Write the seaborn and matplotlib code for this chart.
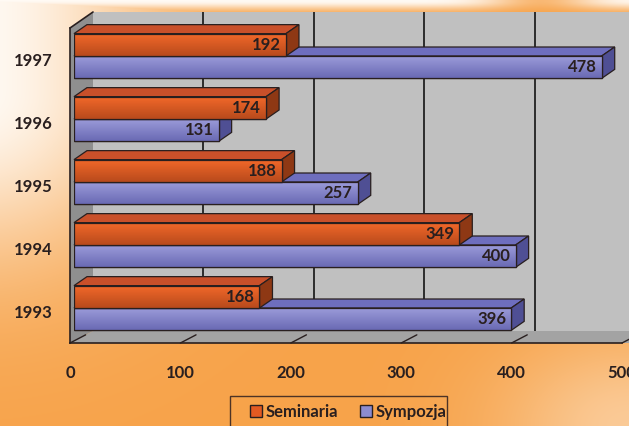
import numpy as np
import pandas as pd
import seaborn as sns
import matplotlib
matplotlib.use("Agg")
import matplotlib.pyplot as plt
from matplotlib.patches import Polygon, Rectangle, Patch
from matplotlib.transforms import IdentityTransform
from matplotlib.colors import LinearSegmentedColormap
from matplotlib.lines import Line2D

# ---- data -------------------------------------------------------------
years = ["1997", "1996", "1995", "1994", "1993"]
seminaria = [192, 174, 188, 349, 168]
sympozja = [478, 131, 257, 400, 396]
series = ["Seminaria", "Sympozja"]
x_ticks = [0, 100, 200, 300, 400, 500]

df = pd.DataFrame({
    "year": years * 2,
    "value": seminaria + sympozja,
    "series": [series[0]] * len(years) + [series[1]] * len(years),
})

# ---- style ------------------------------------------------------------
W, H, DPI = 629, 426, 100
sns.set_theme(style="white")
plt.rcParams["font.family"] = ["Lato", "DejaVu Sans"]
FS = 12
DARK = (0.16, 0.12, 0.12)

# face colours per series: front top, front bottom, top face, side face
STYLE = {
    "Seminaria": dict(front=("#f4692a", "#b84a1c"), top="#c9502a", side="#8e3814",
                      base="#e35a22"),
    "Sympozja": dict(front=("#9d9ddb", "#6a6ab4"), top="#6e6ebe", side="#4f4f94",
                     base="#8c8cd0"),
}
BAR_DEPTH = np.array([13.0, 9.0])     # pixel depth of each 3D bar

fig = plt.figure(figsize=(W / DPI, H / DPI), dpi=DPI)


def px_box(left, top, right, bottom):
    return [left / W, 1 - bottom / H, (right - left) / W, (bottom - top) / H]


# ---- background gradient ---------------------------------------------
bg = fig.add_axes([0, 0, 1, 1], zorder=-10)
yy, xx = np.mgrid[0:H, 0:W].astype(float)
base = np.array([247, 163, 74]) / 255
light = np.array([255, 250, 244]) / 255
w_left = np.exp(-((xx + 30) / 190.0) ** 2 - (np.clip(yy - 90, 0, None) / 170.0) ** 2)
w_top = np.exp(-(yy / 9.0) ** 2) * (1 - 0.75 * np.exp(-((xx - 540) / 55.0) ** 2))
w_br = 0.45 * np.exp(-(((xx - W) / 130.0) ** 2 + ((yy - H) / 90.0) ** 2))
wt = np.clip(np.maximum(np.maximum(w_left, w_top), w_br), 0, 1)
img = base * (1 - wt[..., None]) + light * wt[..., None]
bg.imshow(img, extent=(0, 1, 0, 1), aspect="auto", origin="upper")
bg.set_axis_off()

# ---- back wall -------------------------------------------------------
wall = fig.add_axes(px_box(93, 12, 93 + 552, 331), zorder=0)
wall.set_facecolor("#c0c0c0")
wall.set_xlim(0, 500)
wall.set_ylim(0, 1)
for t in x_ticks[1:]:
    wall.axvline(t, color=(0.13, 0.13, 0.13), lw=1.3)
wall.set_xticks([])
wall.set_yticks([])
for s in wall.spines.values():
    s.set_visible(False)

# ---- front frame (axes, ticks, labels) -------------------------------
ax = fig.add_axes(px_box(70, 28, 622, 343), zorder=1)
ax.set_facecolor("none")
ax.set_xlim(0, 500)
ax.set_ylim(len(years) - 0.5, -0.5)
ax.set_xticks(x_ticks)
ax.set_xticklabels([str(t) for t in x_ticks], fontsize=FS, fontweight="bold", color=DARK)
ax.set_yticks(range(len(years)))
ax.set_yticklabels(years, fontsize=FS, fontweight="bold", color=DARK)
ax.set_yticks(np.arange(-0.5, len(years)), minor=True)
ax.tick_params(axis="y", which="major", length=0, pad=12.5)
ax.tick_params(axis="y", which="minor", length=3.5, width=1, color=DARK, direction="out")
ax.tick_params(axis="x", which="major", length=3.5, width=1, color=DARK,
               direction="out", pad=12)
for side in ("top", "right"):
    ax.spines[side].set_visible(False)
for side in ("left", "bottom"):
    ax.spines[side].set_color(DARK)
    ax.spines[side].set_linewidth(1.2)

# left side wall and floor, between the front frame and the back wall
f_tl = ax.transAxes.transform((0, 1))
f_bl = ax.transAxes.transform((0, 0))
f_br = ax.transAxes.transform((1.05, 0))
b_tl = wall.transAxes.transform((0, 1))
b_bl = wall.transAxes.transform((0, 0))
b_br = wall.transAxes.transform((1.05, 0))
fig.add_artist(Polygon([f_tl, b_tl, b_bl, f_bl], closed=True, transform=IdentityTransform(),
                       facecolor="#8f8f8f", edgecolor="none", zorder=0.5))
fig.add_artist(Polygon([f_bl, b_bl, b_br, f_br], closed=True, transform=IdentityTransform(),
                       facecolor="#a3a3a3", edgecolor="none", zorder=0.5))
fig.add_artist(Line2D([f_tl[0], b_tl[0]], [f_tl[1], b_tl[1]], transform=IdentityTransform(),
                      color=DARK, lw=1.2, zorder=0.6))
for t in x_ticks:
    p = ax.transData.transform((t, len(years) - 0.5))
    q = wall.transData.transform((t, 0))
    e = p + 0.68 * (q - p)
    fig.add_artist(Line2D([p[0], e[0]], [p[1], e[1]], transform=IdentityTransform(),
                          color=DARK, lw=1.0, zorder=0.6))

# ---- bars ------------------------------------------------------------
bx = fig.add_axes(px_box(74, 24.5, 626, 339.5), zorder=2)
bx.set_facecolor("none")
sns.barplot(data=df, x="value", y="year", hue="series", order=years, hue_order=series,
            orient="h", width=0.71, palette=[STYLE[s]["base"] for s in series],
            saturation=1, legend=False, ax=bx, edgecolor=DARK, linewidth=0.9)
bx.set_xlim(0, 500)
bx.set_ylim(len(years) - 0.5, -0.5)
bx.set_axis_off()

bars = []
for patch in bx.patches:
    fc = np.array(patch.get_facecolor()[:3])
    dists = [np.abs(fc - np.array(matplotlib.colors.to_rgb(STYLE[s]["base"]))).sum()
             for s in series]
    bars.append((patch, series[int(np.argmin(dists))]))

# paint from the lowest bar upward so upper bars overlap the ones below
bars.sort(key=lambda b: -(b[0].get_y() + b[0].get_height() / 2))
ID = IdentityTransform()
for k, (patch, name) in enumerate(bars):
    st = STYLE[name]
    x0, w = patch.get_x(), patch.get_width()
    y0, h = patch.get_y(), patch.get_height()
    z = 2 + k * 0.1
    tl = bx.transData.transform((x0, y0))
    tr = bx.transData.transform((x0 + w, y0))
    br = bx.transData.transform((x0 + w, y0 + h))
    bx.add_patch(Polygon([tl, tr, tr + BAR_DEPTH, tl + BAR_DEPTH], closed=True, transform=ID,
                         facecolor=st["top"], edgecolor=DARK, lw=0.9, zorder=z, clip_on=False))
    bx.add_patch(Polygon([tr, br, br + BAR_DEPTH, tr + BAR_DEPTH], closed=True, transform=ID,
                         facecolor=st["side"], edgecolor=DARK, lw=0.9, zorder=z + 0.01,
                         clip_on=False))
    patch.set_zorder(z + 0.02)
    cmap = LinearSegmentedColormap.from_list(name, [st["front"][0], st["front"][1]])
    grad = bx.imshow(np.linspace(0, 1, 64)[:, None], cmap=cmap, aspect="auto",
                     extent=(x0, x0 + w, y0 + h, y0), origin="upper", zorder=z + 0.03,
                     interpolation="bilinear")
    grad.set_clip_path(patch)
    bx.add_patch(Rectangle((x0, y0), w, h, fill=False, edgecolor=DARK, lw=0.9,
                           zorder=z + 0.04))
    bx.annotate(f"{int(round(w))}", xy=(x0 + w, y0 + h / 2), xytext=(-5, 0),
                textcoords="offset pixels", ha="right", va="center", fontsize=FS,
                fontweight="bold", color=DARK, zorder=z + 0.05)
bx.set_xlim(0, 500)
bx.set_ylim(len(years) - 0.5, -0.5)

# ---- legend ----------------------------------------------------------
handles = [Patch(facecolor=STYLE[s]["base"], edgecolor=DARK, lw=1.0, label=s) for s in series]
fig.legend(handles=handles, loc="center left", bbox_to_anchor=(250 / W, 1 - 412 / H),
           ncol=2, frameon=False, prop=dict(size=FS, weight="bold"), labelcolor=DARK,
           handlelength=0.7, handleheight=0.7, handletextpad=0.25, columnspacing=1.3,
           borderaxespad=0, borderpad=0)
fig.add_artist(Rectangle((230 / W, -0.05), (447 - 230) / W, (1 - 396 / H) + 0.05,
                         transform=fig.transFigure, fill=False, edgecolor=(0.3, 0.2, 0.15),
                         lw=1.0, zorder=5))

fig.savefig("out.png", dpi=DPI)
